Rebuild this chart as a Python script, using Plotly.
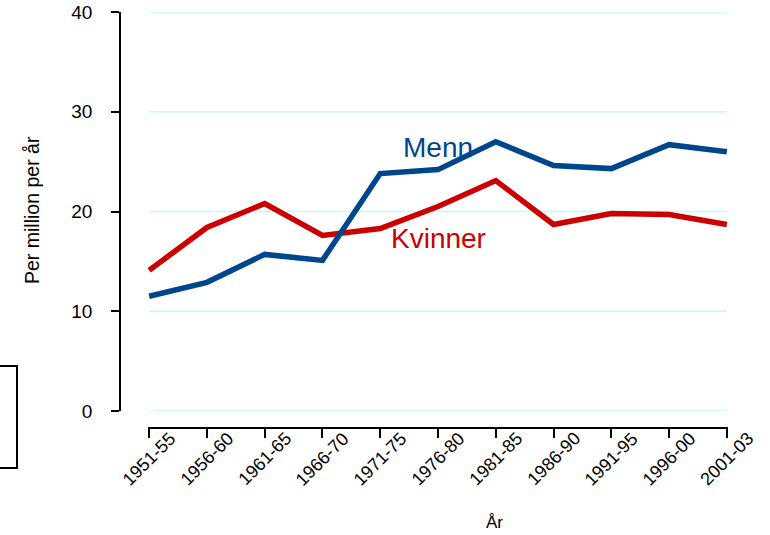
import plotly.graph_objects as go

periods = ["1951-55", "1956-60", "1961-65", "1966-70", "1971-75", "1976-80",
           "1981-85", "1986-90", "1991-95", "1996-00", "2001-03"]
menn = [11.5, 12.9, 15.7, 15.1, 23.8, 24.2, 27.0, 24.6, 24.3, 26.7, 26.0]
kvinner = [14.1, 18.4, 20.8, 17.6, 18.3, 20.5, 23.1, 18.7, 19.8, 19.7, 18.7]
y_ticks = [0, 10, 20, 30, 40]

BLUE = "#00468C"
RED = "#CC0000"
GRID = "#C0FAFA"
FONT = "Liberation Sans, Arial, sans-serif"

xi = list(range(len(periods)))

fig = go.Figure()

# light cyan grid lines at every y tick, spanning the categories
for v in y_ticks:
    fig.add_shape(type="line", xref="x", yref="y", x0=xi[0], x1=xi[-1], y0=v, y1=v,
                  line=dict(color=GRID, width=1.5), layer="below")

fig.add_trace(go.Scatter(x=xi, y=kvinner, mode="lines", name="Kvinner",
                         line=dict(color=RED, width=5.5), cliponaxis=False))
fig.add_trace(go.Scatter(x=xi, y=menn, mode="lines", name="Menn",
                         line=dict(color=BLUE, width=5.5), cliponaxis=False))

# plot area: x 100..728 px, y 12..428 px
L, R, T, B = 100, 42, 12, 107
pw = 770 - L - R
ph = 535 - T - B

fig.update_layout(
    template="none",
    width=770, height=535,
    margin=dict(l=L, r=R, t=T, b=B),
    paper_bgcolor="white", plot_bgcolor="white",
    showlegend=False,
    font=dict(family=FONT, size=16, color="black"),
    xaxis=dict(
        domain=[(148 - L) / pw, 1],
        range=[-0.02, 10.02],
        tickvals=xi, showticklabels=False,
        ticks="outside", ticklen=9, tickwidth=1.5, tickcolor="black",
        showline=True, linecolor="black", linewidth=1.5,
        showgrid=False, zeroline=False, automargin=False,
        anchor="free", position=0,
    ),
    yaxis=dict(
        domain=[(428 - 411) / ph, 1],
        range=[0, 40],
        tickvals=y_ticks,
        ticks="outside", ticklen=8, tickwidth=1.5, tickcolor="black",
        showline=True, linecolor="black", linewidth=1.5,
        showgrid=False, zeroline=False, automargin=False,
        anchor="free", position=(120 - L) / pw,
        ticklabelstandoff=15,
        tickfont=dict(size=19),
    ),
)

# rotated category labels centred under each tick
for i, lab in zip(xi, periods):
    fig.add_annotation(x=i, y=(428 - 459) / ph, xref="x", yref="paper", text=lab,
                       showarrow=False, textangle=-45, font=dict(size=18),
                       xanchor="center", yanchor="middle")

fig.add_annotation(x=5, y=26.4, xref="x", yref="y", text="Menn", showarrow=False,
                   font=dict(size=28, color=BLUE, family=FONT),
                   xanchor="center", yanchor="middle")
fig.add_annotation(x=5, y=17.3, xref="x", yref="y", text="Kvinner", showarrow=False,
                   font=dict(size=28, color=RED, family=FONT),
                   xanchor="center", yanchor="middle")

# axis titles
fig.add_annotation(x=(32 - L) / pw, y=(428 - 210) / ph, xref="paper", yref="paper",
                   text="Per million per år", showarrow=False, textangle=-90,
                   font=dict(size=19.5), xanchor="center", yanchor="middle")
fig.add_annotation(x=(494 - L) / pw, y=(428 - 522) / ph, xref="paper", yref="paper",
                   text="År", showarrow=False,
                   font=dict(size=17), xanchor="center", yanchor="middle")

# partially visible box at the left edge
fig.add_shape(type="rect", xref="paper", yref="paper",
              x0=(-10 - L) / pw, x1=(17 - L) / pw,
              y0=(428 - 468) / ph, y1=(428 - 366) / ph,
              line=dict(color="black", width=2), fillcolor="rgba(0,0,0,0)")

fig.write_html("out.html", config={"displayModeBar": False},
               post_script="document.body.style.margin='0';document.body.style.overflow='hidden';")
